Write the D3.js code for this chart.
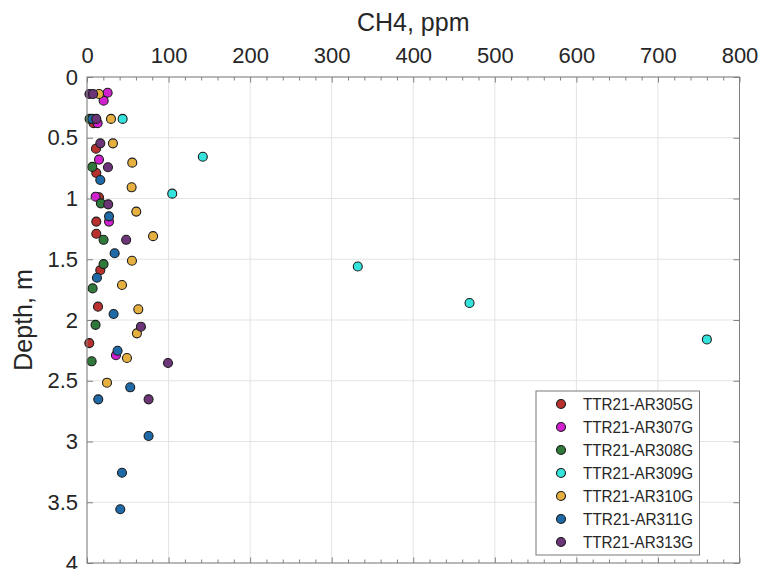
<!DOCTYPE html>
<html>
<head>
<meta charset="utf-8">
<script src="https://cdn.jsdelivr.net/npm/d3@7"></script>
<style>
  html, body { margin: 0; padding: 0; background: #fff; }
  svg { display: block; font-family: "Liberation Sans", Arial, Helvetica, sans-serif; }
</style>
</head>
<body>
<svg id="chart" width="760" height="569"></svg>
<script>
// ---- data (depth m, CH4 ppm) ----
const seriesNames = ["TTR21-AR305G","TTR21-AR307G","TTR21-AR308G","TTR21-AR309G","TTR21-AR310G","TTR21-AR311G","TTR21-AR313G"];
const seriesColors = ["#b8312f","#d020d0","#2f7a3a","#33e3dc","#e6b040","#1f6aa6","#6b3578"];

const depth305 = [0.38, 0.59, 0.79, 0.99, 1.19, 1.29, 1.59, 1.89, 2.19];
const ch4_305  = [8.1, 11, 11.4, 14.7, 11.4, 11.4, 16.3, 13.5, 2.8];

const depth307 = [0.13, 0.195, 0.38, 0.68, 0.985, 1.19, 2.29];
const ch4_307  = [25.3, 20.4, 13, 14.7, 10.6, 27, 35.5];

const depth308 = [0.345, 0.74, 1.04, 1.34, 1.54, 1.74, 2.04, 2.34];
const ch4_308  = [3.2, 6.5, 17, 20.3, 20.3, 6.9, 10.5, 5.7];

const depth309 = [0.345, 0.656, 0.96, 1.56, 1.86, 2.16];
const ch4_309  = [43.7, 142, 104.5, 332, 469, 760];

const depth310 = [0.14, 0.345, 0.546, 0.705, 0.908, 1.108, 1.31, 1.512, 1.712, 1.912, 2.11, 2.313, 2.516];
const ch4_310  = [14.7, 29.4, 31.8, 55.5, 54.7, 60.4, 81, 55.1, 42.9, 62.9, 61.2, 49, 24.5];

const depth311 = [0.345, 0.848, 1.147, 1.451, 1.652, 1.951, 2.253, 2.554, 2.653, 2.955, 3.257, 3.558];
const ch4_311  = [6.5, 16.3, 27, 33.9, 12.2, 32.6, 37.5, 53, 13.8, 75.5, 42.9, 40.8];

const depth313 = [0.14, 0.14, 0.345, 0.546, 0.743, 1.048, 1.34, 2.055, 2.354, 2.653];
const ch4_313  = [3, 7.5, 11.4, 16.3, 25.7, 26, 48, 66.1, 99.3, 75.5];

const xTicks = [0, 100, 200, 300, 400, 500, 600, 700, 800];
const yTicks = [0, 0.5, 1, 1.5, 2, 2.5, 3, 3.5, 4];
const xTitle = "CH4, ppm";
const yTitle = "Depth, m";

const depths = [depth305, depth307, depth308, depth309, depth310, depth311, depth313];
const values = [ch4_305, ch4_307, ch4_308, ch4_309, ch4_310, ch4_311, ch4_313];

// ---- layout ----
const L = 87, R = 739.5, T = 77, B = 563;
const svg = d3.select("#chart");
const x = d3.scaleLinear().domain([0, 800]).range([L, R]);
const y = d3.scaleLinear().domain([0, 4]).range([T, B]);
const axisCol = "#808080", textCol = "#262626";

// grid
const grid = svg.append("g");
grid.selectAll("line.gx").data(xTicks).join("line")
  .attr("x1", d => x(d)).attr("x2", d => x(d)).attr("y1", T).attr("y2", B)
  .attr("stroke", "#e3e3e3").attr("stroke-width", 1);
grid.selectAll("line.gy").data(yTicks).join("line")
  .attr("y1", d => y(d)).attr("y2", d => y(d)).attr("x1", L).attr("x2", R)
  .attr("stroke", "#e3e3e3").attr("stroke-width", 1);

// points
seriesNames.forEach((name, i) => {
  const pts = depths[i].map((d, j) => ({ d, v: values[i][j] }));
  svg.append("g").selectAll("circle").data(pts).join("circle")
    .attr("cx", p => x(p.v)).attr("cy", p => y(p.d)).attr("r", 4.5)
    .attr("fill", seriesColors[i]).attr("stroke", "#1c1c1c").attr("stroke-width", 1.1);
});

// axes
const minor = d3.range(0, 801, 20).filter(v => v % 100 !== 0);
function styleAxis(g) {
  g.select(".domain").remove();
  g.selectAll(".tick line").attr("stroke", axisCol);
  g.selectAll(".tick text").attr("fill", textCol).attr("font-size", 22)
    .attr("font-family", "Liberation Sans, Arial, sans-serif");
}
svg.append("g").attr("transform", `translate(0,${T})`)
  .call(d3.axisTop(x).tickValues(xTicks).tickFormat(d => String(d)).tickSize(-5.5).tickPadding(14))
  .call(styleAxis);
svg.append("g").attr("transform", `translate(0,${T})`)
  .call(d3.axisTop(x).tickValues(minor).tickFormat("").tickSize(-3.5)).call(styleAxis);
svg.append("g").attr("transform", `translate(0,${B})`)
  .call(d3.axisBottom(x).tickValues(xTicks).tickFormat("").tickSize(-5.5)).call(styleAxis);
svg.append("g").attr("transform", `translate(0,${B})`)
  .call(d3.axisBottom(x).tickValues(minor).tickFormat("").tickSize(-3.5)).call(styleAxis);
svg.append("g").attr("transform", `translate(${L},0)`)
  .call(d3.axisLeft(y).tickValues(yTicks).tickFormat(d => String(d)).tickSize(-6).tickPadding(9))
  .call(styleAxis);
svg.append("g").attr("transform", `translate(${R},0)`)
  .call(d3.axisRight(y).tickValues(yTicks).tickFormat("").tickSize(-6)).call(styleAxis);

svg.append("rect").attr("x", L).attr("y", T).attr("width", R - L).attr("height", B - T)
  .attr("fill", "none").attr("stroke", axisCol).attr("stroke-width", 1);

// titles
svg.append("text").attr("x", (L + R) / 2).attr("y", 31).attr("text-anchor", "middle")
  .attr("font-size", 25).attr("fill", textCol).text(xTitle);
svg.append("text").attr("transform", `translate(32,${(T + B) / 2}) rotate(-90)`)
  .attr("text-anchor", "middle").attr("font-size", 25).attr("fill", textCol).text(yTitle);

// legend
const lg = svg.append("g");
const lx = 536, ly = 391, lw = 163.5, lh = 164;
lg.append("rect").attr("x", lx).attr("y", ly).attr("width", lw).attr("height", lh)
  .attr("fill", "#fff").attr("stroke", "#7a7a7a").attr("stroke-width", 1);
const rows = lg.selectAll("g.row").data(seriesNames).join("g")
  .attr("transform", (d, i) => `translate(0,${404 + i * 23})`);
rows.append("circle").attr("cx", 561).attr("cy", 0).attr("r", 4.5)
  .attr("fill", (d, i) => seriesColors[i]).attr("stroke", "#1c1c1c").attr("stroke-width", 1.1);
rows.append("text").attr("x", 583).attr("y", 0).attr("dy", "0.36em")
  .attr("font-size", 16).attr("textLength", 110).attr("lengthAdjust", "spacingAndGlyphs")
  .attr("fill", textCol).text(d => d);
</script>
</body>
</html>
